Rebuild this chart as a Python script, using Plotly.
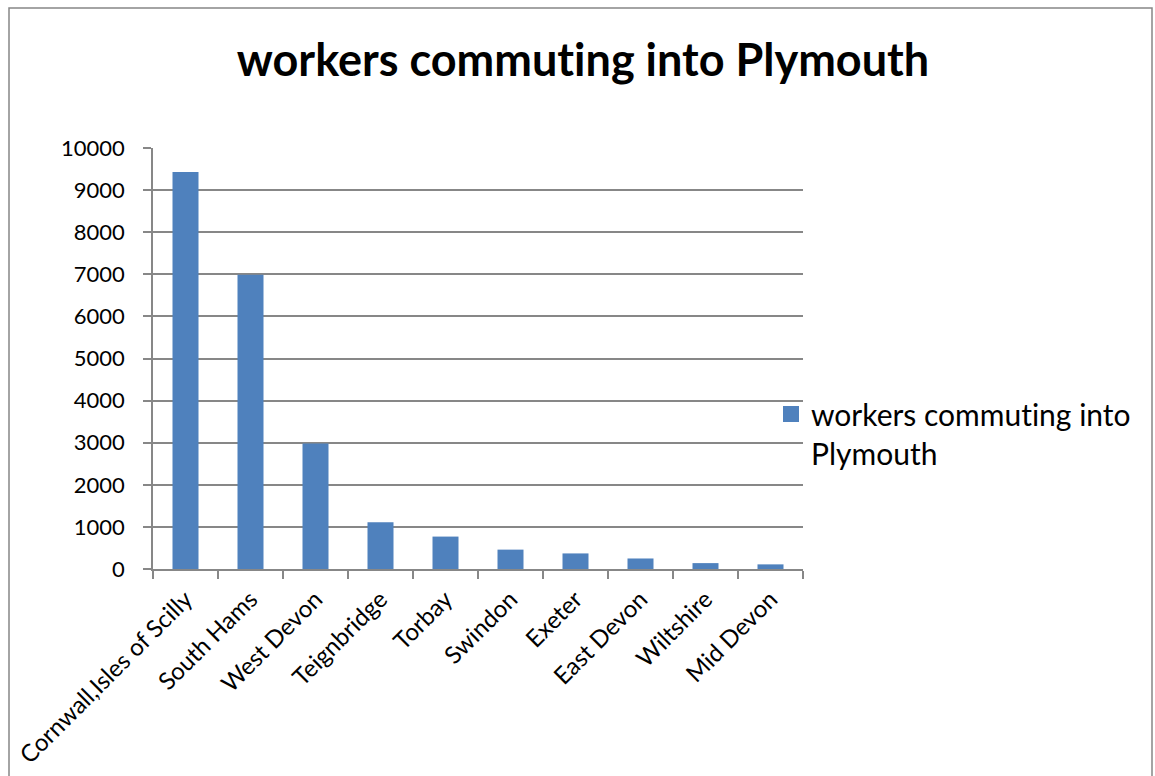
import plotly.graph_objects as go

# Commuting flows into Plymouth by district of residence
districts = ["Cornwall,Isles of Scilly", "South Hams", "West Devon", "Teignbridge",
             "Torbay", "Swindon", "Exeter", "East Devon", "Wiltshire", "Mid Devon"]
workers = [9430, 6990, 2980, 1110, 770, 460, 370, 250, 140, 110]
y_ticks = [0, 1000, 2000, 3000, 4000, 5000, 6000, 7000, 8000, 9000, 10000]
series_name = "workers commuting into<br>Plymouth"
title_text = "workers commuting into Plymouth"

W, H = 1155, 776
L, R, T, B = 153, 352, 148, 207
pw, ph = W - L - R, H - T - B


def px_x(v):
    return (v - L) / pw


def px_y(v):
    return (H - B - v) / ph


grid = "#878787"
bar_color = "#4F81BD"
font = "Lato"

fig = go.Figure()
fig.add_trace(go.Bar(
    x=districts, y=workers, name=series_name, showlegend=False,
    marker=dict(color=bar_color, line=dict(width=0)),
))
# legend entry with a larger square swatch
fig.add_trace(go.Scatter(
    x=[None], y=[None], mode="markers", name=series_name,
    marker=dict(symbol="square", size=16, color=bar_color, line=dict(width=0)),
))

fig.update_layout(
    width=W, height=H,
    margin=dict(l=L, r=R, t=T, b=B),
    paper_bgcolor="white", plot_bgcolor="white",
    bargap=0.6,
    showlegend=True,
    font=dict(family=font, color="black"),
    title=dict(text="<b>" + title_text + "</b>", x=583 / W, xanchor="center",
               y=1 - 60 / H, yanchor="middle",
               font=dict(family=font, size=45, color="black")),
    legend=dict(x=px_x(771), y=px_y(388), xanchor="left", yanchor="top",
                valign="top", font=dict(size=30, family=font),
                bgcolor="rgba(0,0,0,0)", itemsizing="trace"),
    xaxis=dict(type="category", tickangle=-45, tickson="boundaries",
               ticks="outside", ticklen=8, tickcolor=grid, tickwidth=1.5,
               showline=True, linecolor=grid, linewidth=1.5, automargin=False,
               showgrid=False, tickfont=dict(size=24, family=font),
               ticklabelstandoff=5),
    yaxis=dict(range=[0, 10000], tickvals=y_ticks, tickformat="d",
               ticks="outside", ticklen=8, automargin=False,
               tickcolor=grid, tickwidth=1.5, showline=True, linecolor=grid,
               linewidth=1.5, showgrid=True, gridcolor=grid, gridwidth=1.5,
               zeroline=False, tickfont=dict(size=22, family=font),
               ticklabelstandoff=14),
    shapes=[dict(type="rect", xref="paper", yref="paper",
                 x0=px_x(9), x1=px_x(1152), y0=px_y(790), y1=px_y(8),
                 line=dict(color="#868686", width=1.5), fillcolor="rgba(0,0,0,0)",
                 layer="below")],
)

# plain letterforms: switch off typographic ligatures in the SVG text
no_ligatures = (
    "var s=document.createElement('style');"
    "s.textContent='.main-svg text{font-variant-ligatures:none;"
    "font-feature-settings:\"liga\" 0,\"dlig\" 0;}';"
    "document.head.appendChild(s);"
)

fig.write_html("out.html", post_script=no_ligatures)
